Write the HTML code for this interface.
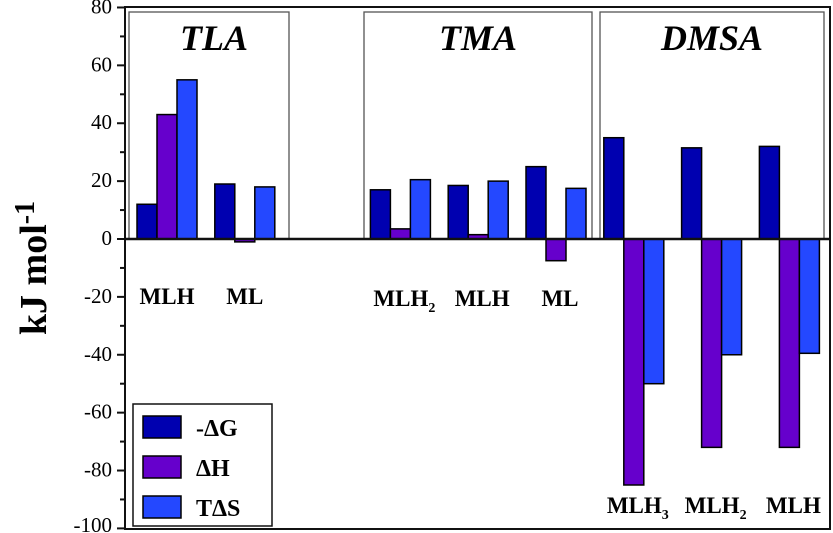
<!DOCTYPE html>
<html><head><meta charset="utf-8"><style>
body{margin:0;background:#fff}
svg{display:block;font-family:"Liberation Serif",serif}
</style></head><body>
<svg id="c" width="833" height="533"></svg>
<script>
const categories=["MLH","ML","MLH2","MLH","ML","MLH3","MLH2","MLH"];
const slots=[0,1,3,4,5,6,7,8];
const negG=[12,19,17,18.5,25,35,31.5,32];
const dH=[43,-1,3.5,1.5,-7.5,-85,-72,-72];
const TdS=[55,18,20.5,20,17.5,-50,-40,-39.5];
const yTicks=[80,60,40,20,0,-20,-40,-60,-80,-100];
const seriesNames=["-ΔG","ΔH","TΔS"];
const colors=["#0000b0","#6600cc","#2448ff"];
const NS="http://www.w3.org/2000/svg";
const svg=document.getElementById('c');
const y=v=>239-v*2.894;
const xs=s=>167+s*77.8;
function el(t,a,p){const e=document.createElementNS(NS,t);for(const k in a)e.setAttribute(k,a[k]);(p||svg).appendChild(e);return e;}
const boxes=[[129,289,"TLA",214],[364,592,"TMA",478],[600,824,"DMSA",712]];
boxes.forEach(b=>{
 const r=el('rect',{x:b[0],y:12,width:b[1]-b[0],height:227,fill:"none",stroke:"#555","stroke-width":1.3});
 
 
 const t=el('text',{x:b[3],y:50,"text-anchor":"middle","font-size":36,"font-weight":"bold","font-style":"italic"});
 t.textContent=b[2];
 
 
});
el('rect',{x:125,y:7,width:705,height:522,fill:"none",stroke:"#111","stroke-width":2});
yTicks.forEach(v=>{
 el('line',{x1:117,x2:125,y1:y(v),y2:y(v),stroke:"#111","stroke-width":2});
 const t=el('text',{x:112,y:Math.min(y(v)+6,532),"text-anchor":"end","font-size":21});
 t.textContent=v;
 
 
});
for(let v=70;v>-100;v-=20) el('line',{x1:120,x2:125,y1:y(v),y2:y(v),stroke:"#111","stroke-width":2});
const series=[negG,dH,TdS];
series.forEach((arr,si)=>{
 arr.forEach((v,i)=>{
  const x0=xs(slots[i])-30+si*20;
  const r=el('rect',{x:x0,y:Math.min(y(v),y(0)),width:20,height:Math.abs(y(v)-y(0)),fill:colors[si],stroke:"#000","stroke-width":1.5});
  
  
 });
});
el('line',{x1:125,x2:830,y1:y(0),y2:y(0),stroke:"#111","stroke-width":2.5});
categories.forEach((c,i)=>{
 const dmsa=slots[i]>=6;
 const ly=dmsa?513:(slots[i]>=3?306:304);
 const t=el('text',{x:xs(slots[i])+(dmsa?4:(slots[i]>=3?4:0)),y:ly,"text-anchor":"middle","font-size":23,"font-weight":"bold"});
 const m=c.match(/^(\D+)(\d?)$/);
 t.textContent=m[1];
 if(m[2]){const s=el('tspan',{"font-size":14,dy:6},t);s.textContent=m[2];}
 
 
});
const at=el('text',{x:0,y:0,"text-anchor":"middle","font-size":38,"font-weight":"bold",transform:"translate(46,268) rotate(-90)"});
at.textContent="kJ mol";
const sup=el('tspan',{"font-size":28,dy:-12},at);sup.textContent="-1";


const lg=el('g',{});


el('rect',{x:133,y:404,width:139,height:122,fill:"#fff",stroke:"#111","stroke-width":1.5},lg);
seriesNames.forEach((n,i)=>{
 const g=el('g',{},lg);
 
 
 el('rect',{x:143,y:416+i*40,width:38,height:22,fill:colors[i],stroke:"#000","stroke-width":1.5},g);
 const t=el('text',{x:196,y:436+i*40,"font-size":24,"font-weight":"bold"},g);
 t.textContent=n;
});
</script>
</body></html>
